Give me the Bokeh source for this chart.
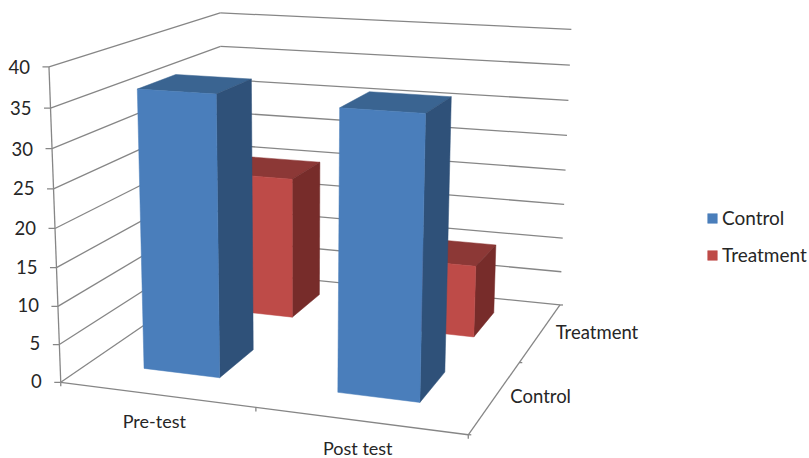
import numpy as np
from bokeh.plotting import figure
from bokeh.models import Range1d, Legend, LegendItem
from bokeh.embed import file_html
from bokeh.resources import INLINE

categories = ["Pre-test", "Post test"]
series = ["Control", "Treatment"]
control = [36.4, 35.7]
treatment = [20, 10]
ticks = [0, 5, 10, 15, 20, 25, 30, 35, 40]
FONT = "Lato"
FS = "18.5px"
TXT = "#262626"
GRID = "#868686"

# camera calibration: (category, depth, value) -> page pixel
cal3 = np.array([[0,0,0],[0,0,40],[0,2,0],[0,2,40],[2,2,0],[2,2,40],[2,0,0],[1,0,0],[2,1,0]], float)
cal2 = np.array([[61,380.7],[48.3,66.7],[222.5,271.3],[220,11.7],[559.3,304],[570.7,29.3],[468.3,434],[254,408.3],[519.3,361.7]], float)
A, b = [], []
for (X, Y, Z), (u, v) in zip(cal3, cal2):
    A.append([X, Y, Z, 1, 0, 0, 0, 0, -u*X, -u*Y, -u*Z]); b.append(u)
    A.append([0, 0, 0, 0, X, Y, Z, 1, -v*X, -v*Y, -v*Z]); b.append(v)
M = np.append(np.linalg.lstsq(np.array(A), np.array(b), rcond=None)[0], 1).reshape(3, 4)

def proj(x, d, z):
    h = M @ np.array([x, d, z, 1.0])
    return h[0]/h[2], h[1]/h[2]

p = figure(width=809, height=458, output_backend="svg", toolbar_location=None,
           x_range=Range1d(0, 809), y_range=Range1d(458, 0), min_border=0,
           outline_line_color=None, background_fill_color="white")
p.axis.visible = False
p.grid.visible = False

def seg(a, b, w=1.3):
    ax, ay = proj(*a); bx, by = proj(*b)
    p.line([ax, bx], [ay, by], line_color=GRID, line_width=w)

for t in ticks:
    seg((0, 0, t), (0, 2, t))
    seg((0, 2, t), (2, 2, t))
    x, y = proj(0, 0, t)
    p.line([x-6.5, x], [y, y], line_color=GRID, line_width=1.3)
    p.text([x-19], [y], text=[str(t)], text_align="right", text_baseline="middle",
           y_offset=-1.6+t*0.05,
           text_font={"value": FONT}, text_font_size=FS, text_color=TXT)
seg((0, 0, 0), (0, 0, 40))
seg((0, 0, 0), (2, 0, 0))
seg((2, 0, 0), (2, 2, 0))
for c in range(3):
    x, y = proj(c, 0, 0)
    p.line([x, x], [y, y+4], line_color=GRID, line_width=1.3)
for d in range(3):
    x, y = proj(2, d, 0)
    p.line([x, x+3], [y, y], line_color=GRID, line_width=1.3)

def draw(poly, color):
    xs = [q[0] for q in poly]; ys = [q[1] for q in poly]
    return p.patch(xs, ys, fill_color=color, line_color=color, line_width=0.5)

def bar(xc, s, val, cols):
    x0, x1 = xc+0.29, xc+0.69
    d0, d1 = s+0.31, s+0.745
    top = [proj(x0,d0,val), proj(x1,d0,val), proj(x1,d1,val), proj(x0,d1,val)]
    side = [proj(x1,d0,val), proj(x1,d1,val), proj(x1,d1,0), proj(x1,d0,0)]
    front = [proj(x0,d0,val), proj(x1,d0,val), proj(x1,d0,0), proj(x0,d0,0)]
    draw(top, cols[0]); draw(side, cols[1])
    return draw(front, cols[2])

BLUE = ("#3A6491", "#2F5179", "#4A7EBB")
RED = ("#8C3836", "#772C2A", "#BE4B48")
r_red = None
for i, v in enumerate(treatment):
    r_red = bar(i, 1, v, RED)
r_blue = None
for i, v in enumerate(control):
    r_blue = bar(i, 0, v, BLUE)

for i, c in enumerate(categories):
    x, y = proj(i+0.5, 0, 0)
    p.text([x], [y], text=[c], text_align="center", text_baseline="middle", x_offset=-2, y_offset=26.7,
           text_font={"value": FONT}, text_font_size="18px", text_color=TXT)
for i, s in enumerate(series):
    x, y = proj(2, i+0.5, 0)
    p.text([x], [y], text=[s], text_align="left", text_baseline="middle", x_offset=15, y_offset=-0.5,
           text_font={"value": FONT}, text_font_size=FS, text_color=TXT)

leg = Legend(items=[LegendItem(label=series[0], renderers=[r_blue]), LegendItem(label=series[1], renderers=[r_red])],
             location=(706, 192), orientation="vertical", padding=0, margin=0, spacing=14,
             glyph_width=12, glyph_height=12, label_standoff=4,
             label_text_font=FONT, label_text_font_size="19px", label_text_color=TXT,
             border_line_color=None, background_fill_color=None, background_fill_alpha=0)
p.add_layout(leg)

open("out.html", "w").write(file_html(p, INLINE))
